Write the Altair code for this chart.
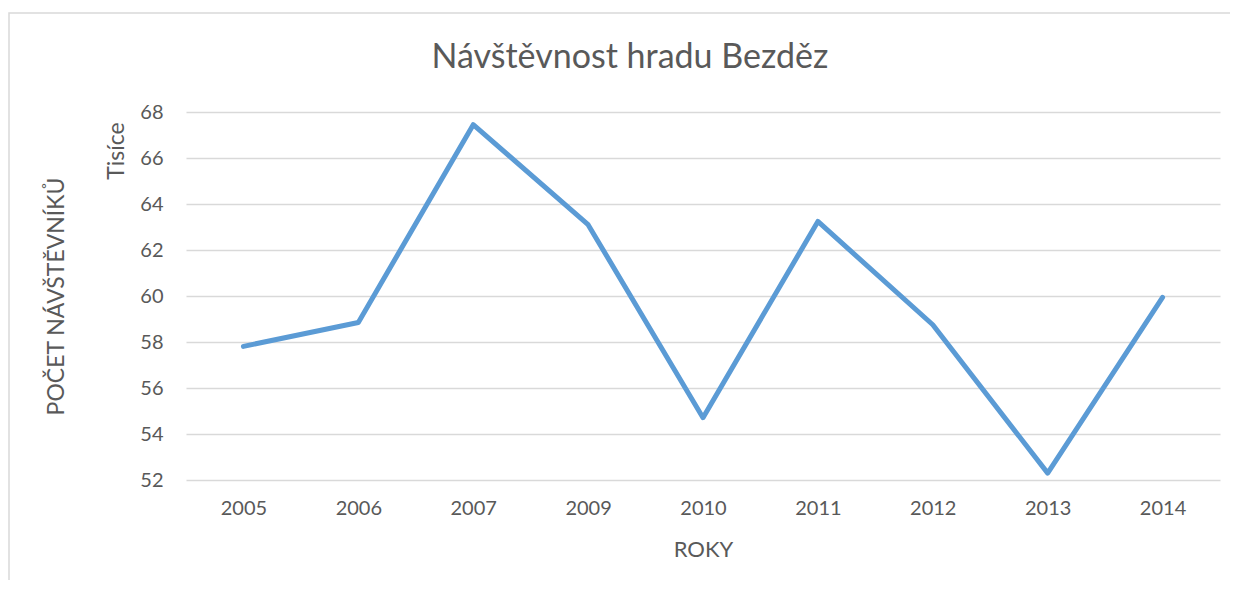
import altair as alt
import pandas as pd

years = ["2005", "2006", "2007", "2009", "2010", "2011", "2012", "2013", "2014"]
visitors_k = [57.81, 58.85, 67.45, 63.10, 54.71, 63.24, 58.75, 52.30, 59.94]
y_ticks = [52, 54, 56, 58, 60, 62, 64, 66, 68]
title_text = ["Návštěvnost hradu Bezděz"]
x_title = "ROKY"
y_title = "POČET NÁVŠTĚVNÍKŮ"
units_label = ["Tisíce"]

df = pd.DataFrame({"rok": years, "pocet": visitors_k})
FONT = "Lato"
GREY = "#595959"

frame = alt.Chart(pd.DataFrame({"f": [0]})).mark_rect(
    fillOpacity=0, stroke="#d9d9d9", strokeWidth=1.5, clip=False
).encode(
    x=alt.value(-177), x2=alt.value(1200),
    y=alt.value(-99), y2=alt.value(700)
)

line = alt.Chart(df).mark_line(
    color="#5b9bd5", strokeWidth=5, strokeJoin="round", strokeCap="round"
).encode(
    x=alt.X("rok:O", sort=years, title=x_title,
            axis=alt.Axis(labelAngle=0, labelFontSize=20, labelFont=FONT,
                          labelColor=GREY, labelPadding=18, ticks=False,
                          domain=False, grid=False,
                          titleFont=FONT, titleFontSize=22, titleColor=GREY,
                          titleFontWeight="normal", titlePadding=21)),
    y=alt.Y("pocet:Q", title=y_title,
            scale=alt.Scale(domain=[52, 68], nice=False, zero=False),
            axis=alt.Axis(values=y_ticks, labelFontSize=20, labelFont=FONT,
                          labelColor=GREY, labelPadding=23, ticks=False,
                          domain=False, grid=True, gridColor="#d9d9d9",
                          gridWidth=1.3,
                          titleFont=FONT, titleFontSize=23, titleColor=GREY,
                          titleFontWeight="normal", titleX=-118, titleY=184))
)

units = alt.Chart(pd.DataFrame({"t": units_label})).mark_text(
    angle=270, align="center", baseline="middle", font=FONT, fontSize=23,
    color=GREY
).encode(
    text="t:N", x=alt.value(-69), y=alt.value(39)
)

title = alt.Chart(pd.DataFrame({"t": title_text})).mark_text(
    align="center", baseline="alphabetic", font=FONT, fontSize=34,
    color=GREY
).encode(
    text="t:N", x=alt.value(444), y=alt.value(-44)
)

chart = alt.layer(frame, line, units, title).properties(
    width=1034, height=368,
    autosize=alt.AutoSizeParams(type="none"),
    padding={"left": 178, "top": 104, "right": 10, "bottom": 100},
).configure_view(stroke=None)

chart.save("out.html", embed_options={"renderer": "svg", "actions": False})
